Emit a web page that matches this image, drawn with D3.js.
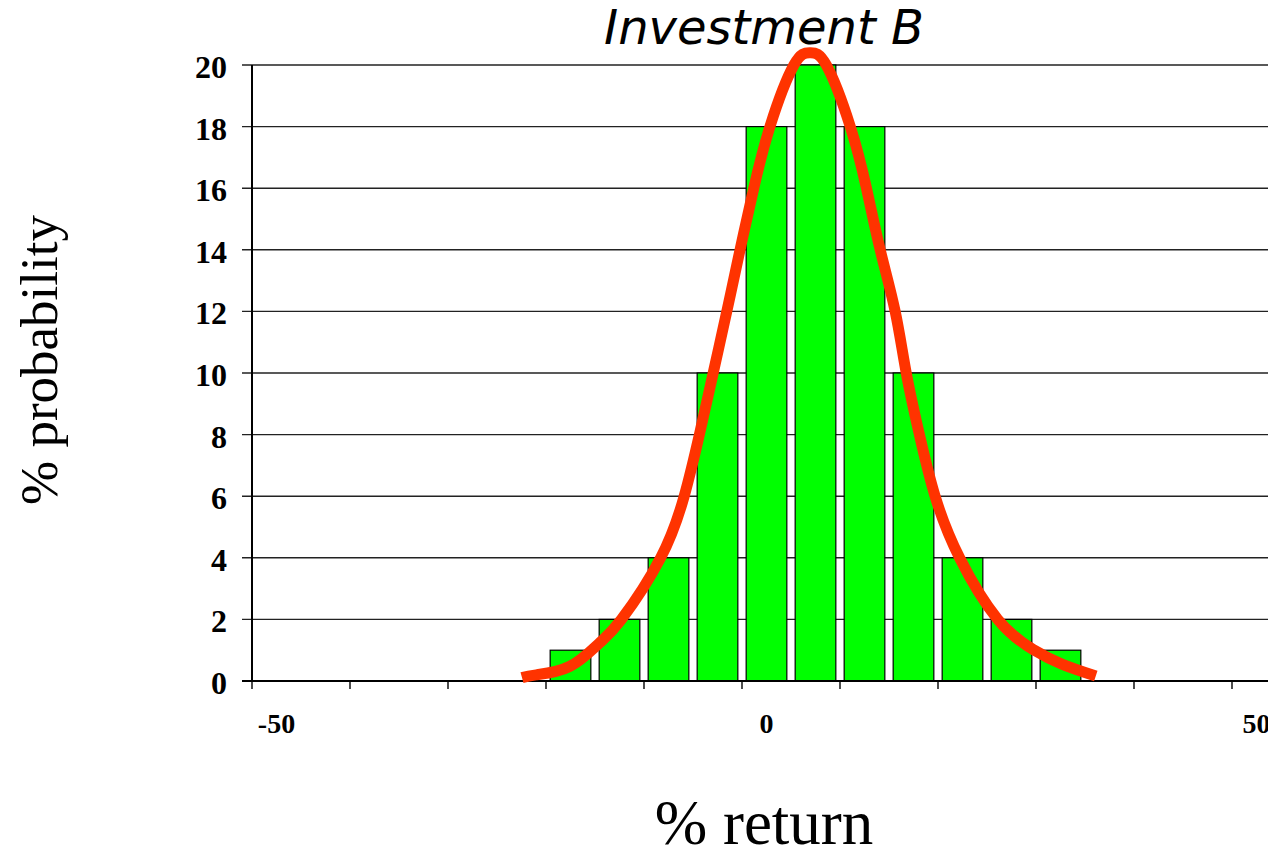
<!DOCTYPE html>
<html>
<head>
<meta charset="utf-8">
<script src="https://cdn.jsdelivr.net/npm/d3@7/dist/d3.min.js"></script>
<style>
  html, body { margin: 0; padding: 0; background: #fff; }
  svg { display: block; }
</style>
</head>
<body>
<div id="chart"></div>
<script>
// Return categories (%) and probability of each outcome (%)
const returns = [-20, -15, -10, -5, 0, 5, 10, 15, 20, 25, 30];
const probabilities = [1, 2, 4, 10, 18, 20, 18, 10, 4, 2, 1];

// Fitted distribution curve, sampled points (return %, probability %)
const curveReturn = [-24.95, -23.5, -20.1, -17.1, -14.8, -10.8, -8.4, -6.85, -5.44, -4.05, -2.7, -1.3, 0.35, 2.8, 4.45,
                     6.1, 8.55, 10.2, 11.6, 13.13, 14.26, 15.6, 17.2, 19.7, 23.6, 27.2, 30.2, 33.6];
const curveProb = [0.11, 0.2, 0.47, 1.22, 2, 4, 6, 8, 10, 12, 14, 16, 18, 20, 20.4,
                   20, 18, 16, 14, 12, 10, 8, 6, 4, 2, 1.02, 0.54, 0.16];

// Axis ticks and labels
const yTicks = [0, 2, 4, 6, 8, 10, 12, 14, 16, 18, 20];
const xLabels = [-50, 0, 50];
const xTickMarks = [-52.5, -42.5, -32.5, -22.5, -12.5, -2.5, 7.5, 17.5, 27.5, 37.5, 47.5];
const categoryStep = 5;

const W = 1268, H = 851;
const svg = d3.select("#chart").append("svg")
  .attr("width", W).attr("height", H)
  .attr("viewBox", `0 0 ${W} ${H}`);

svg.append("rect").attr("width", W).attr("height", H).attr("fill", "#fff");

const x = d3.scaleLinear().domain([-52.5, 52.5]).range([252, 1281]);
const y = d3.scaleLinear().domain([0, 20]).range([681, 65]);
const plotRight = W;

const serif = "'Liberation Serif', 'Times New Roman', serif";

// Horizontal gridlines (with short ticks left of the axis)
svg.append("g").selectAll("line.grid")
  .data(yTicks.filter(d => d > 0))
  .join("line")
  .attr("x1", x(-52.5) - 10).attr("x2", plotRight)
  .attr("y1", d => y(d)).attr("y2", d => y(d))
  .attr("stroke", "#222").attr("stroke-width", 1.4);

// Bars
const barW = (x(categoryStep) - x(0)) * 0.83;
svg.append("g").selectAll("rect.bar")
  .data(returns.map((r, i) => ({ r, p: probabilities[i] })))
  .join("rect")
  .attr("x", d => x(d.r) - barW / 2)
  .attr("width", barW)
  .attr("y", d => y(d.p))
  .attr("height", d => y(0) - y(d.p))
  .attr("fill", "#00ff00")
  .attr("stroke", "#000")
  .attr("stroke-width", 1.2);

// Axes lines
svg.append("line")
  .attr("x1", x(-52.5)).attr("x2", x(-52.5))
  .attr("y1", y(20)).attr("y2", y(0))
  .attr("stroke", "#000").attr("stroke-width", 2);
svg.append("line")
  .attr("x1", x(-52.5) - 10).attr("x2", plotRight)
  .attr("y1", y(0)).attr("y2", y(0))
  .attr("stroke", "#000").attr("stroke-width", 2.2);

// X tick marks
svg.append("g").selectAll("line.xt")
  .data(xTickMarks)
  .join("line")
  .attr("x1", d => x(d)).attr("x2", d => x(d))
  .attr("y1", y(0)).attr("y2", y(0) + 8)
  .attr("stroke", "#000").attr("stroke-width", 1.4);

// Y tick labels
svg.append("g").selectAll("text.yl")
  .data(yTicks)
  .join("text")
  .attr("x", 227)
  .attr("y", d => y(d) + 13)
  .attr("text-anchor", "end")
  .attr("font-family", serif)
  .attr("font-weight", "bold")
  .attr("font-size", 32)
  .text(d => d);

// X tick labels
svg.append("g").selectAll("text.xl")
  .data(xLabels)
  .join("text")
  .attr("x", d => x(d))
  .attr("y", 733)
  .attr("text-anchor", "middle")
  .attr("font-family", serif)
  .attr("font-weight", "bold")
  .attr("font-size", 28)
  .text(d => d);

// Distribution curve
const line = d3.line()
  .x(d => x(d[0])).y(d => y(d[1]))
  .curve(d3.curveNatural);
svg.append("path")
  .datum(curveReturn.map((r, i) => [r, curveProb[i]]))
  .attr("d", line)
  .attr("fill", "none")
  .attr("stroke", "#ff3300")
  .attr("stroke-width", 11)
  .attr("stroke-linecap", "butt")
  .attr("stroke-linejoin", "round");

// Title
svg.append("text")
  .attr("x", 764).attr("y", 44)
  .attr("text-anchor", "middle")
  .attr("font-family", "'DejaVu Sans', Verdana, sans-serif")
  .attr("font-style", "italic")
  .attr("font-size", 48)
  .text("Investment B");

// Axis titles
svg.append("text")
  .attr("x", 764).attr("y", 844)
  .attr("text-anchor", "middle")
  .attr("font-family", serif)
  .attr("font-size", 63)
  .text("% return");

svg.append("text")
  .attr("transform", "translate(57,360) rotate(-90)")
  .attr("text-anchor", "middle")
  .attr("font-family", serif)
  .attr("font-size", 53)
  .text("% probability");
</script>
</body>
</html>
